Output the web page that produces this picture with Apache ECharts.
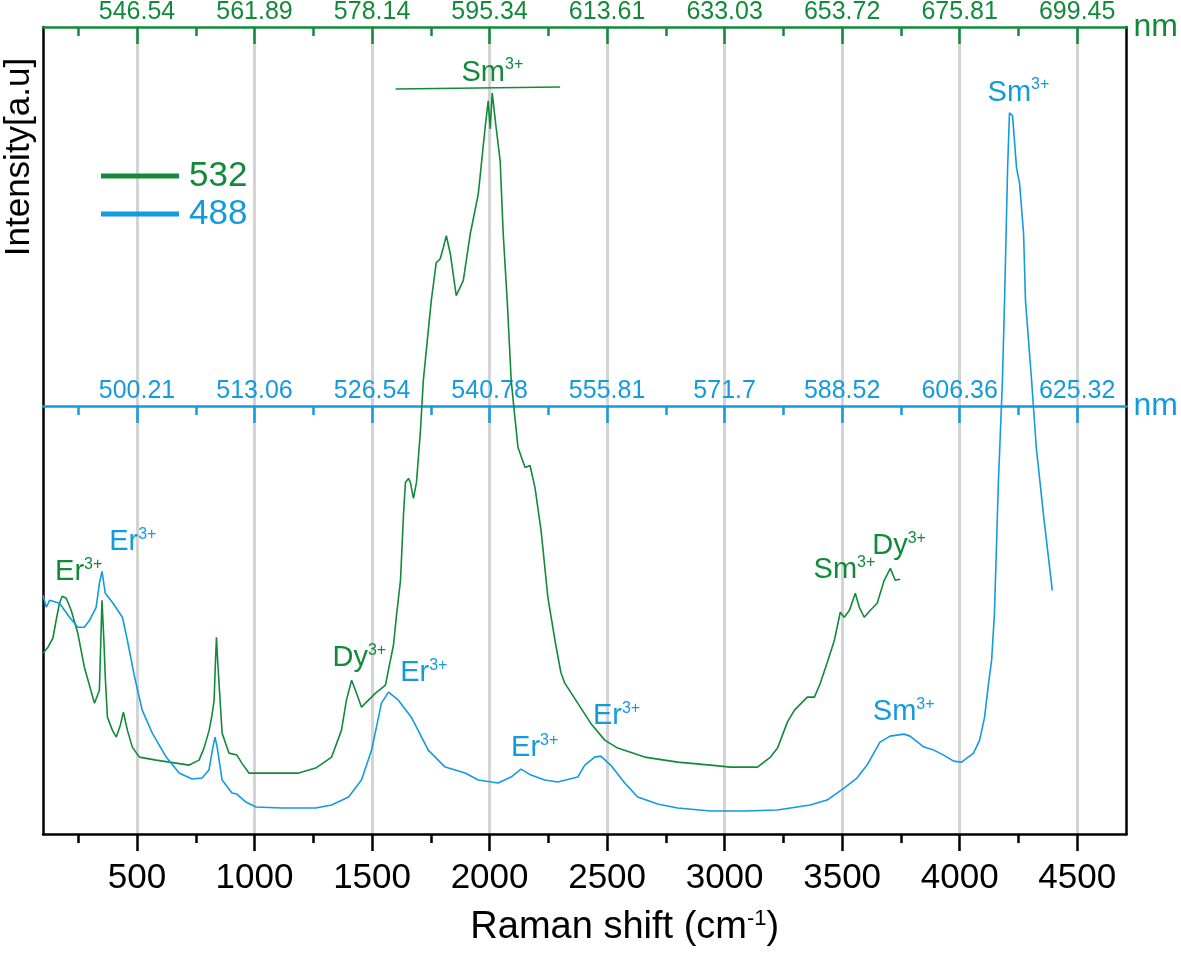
<!DOCTYPE html>
<html>
<head>
<meta charset="utf-8">
<script src="https://cdn.jsdelivr.net/npm/echarts@6/dist/echarts.min.js"></script>
<style>html,body{margin:0;padding:0;background:#fff}#c{width:1181px;height:955px}</style>
</head>
<body>
<div id="c"></div>
<script>
// ---- data (Raman shift in cm-1, intensity in arbitrary units) ----
const ramanShift532 = [100,121,142,156,170,182,199,220,248,276,319,340,346,351,359,365,374,395,412,429,442,459,480,510,581,666,722,764,785,807,819,828,834,838,843,849,862,891,925,946,976,1048,1188,1260,1328,1370,1391,1413,1434,1455,1472,1515,1557,1578,1591,1604,1621,1634,1642,1655,1663,1676,1689,1706,1718,1752,1773,1790,1803,1816,1833,1858,1888,1918,1952,1981,1994,2003,2011,2028,2045,2058,2075,2092,2109,2121,2151,2172,2193,2219,2248,2278,2303,2320,2375,2430,2490,2545,2660,2800,2940,3025,3140,3195,3225,3267,3297,3352,3382,3407,3437,3467,3492,3509,3531,3556,3573,3594,3620,3649,3679,3705,3726,3747];
const intensity532 = [181,187,196,214,231,238,236,224,201,167,131,144,194,234,194,157,117,104,97,109,122,104,87,77,74,71,69,74,86,104,119,134,174,197,174,151,101,81,79,71,61,61,61,66,77,104,134,154,141,127,131,141,149,174,189,219,254,321,352,356,352,336,352,404,454,534,572,576,587,599,581,539,554,601,641,707,734,706,742,707,674,601,534,454,414,387,367,369,347,304,237,194,162,151,131,111,94,86,77,72,69,67,67,77,86,112,124,137,137,151,172,194,222,217,224,241,227,217,224,231,254,266,254,255];

const ramanShift488 = [100,114,128,170,213,248,276,298,326,340,351,365,395,438,459,488,522,565,624,679,734,777,806,823,832,841,862,904,925,963,1006,1116,1260,1328,1400,1455,1498,1540,1570,1612,1667,1739,1811,1896,1952,2036,2091,2134,2176,2235,2290,2375,2405,2447,2473,2515,2575,2630,2715,2800,2940,3084,3224,3364,3436,3508,3563,3606,3661,3704,3763,3789,3848,3890,3932,3974,4008,4059,4085,4106,4123,4136,4148,4165,4182,4191,4204,4212,4225,4242,4255,4272,4280,4306,4326,4356,4394];
const intensity488 = [239,227,234,231,217,207,207,214,227,251,263,241,232,217,194,159,124,101,77,61,55,56,64,87,97,87,54,41,40,32,27,26,26,29,37,54,84,131,142,134,117,84,67,61,54,51,57,65,59,54,52,57,69,77,78,69,51,37,30,26,23,23,24,29,34,46,56,69,92,98,100,98,87,84,79,73,72,81,94,117,151,174,221,354,454,534,667,722,719,667,651,601,534,454,387,321,244];

const tickValues = [500,1000,1500,2000,2500,3000,3500,4000,4500];
const minorTickValues = [250,750,1250,1750,2250,2750,3250,3750,4250];
const nmLabels532 = ['546.54','561.89','578.14','595.34','613.61','633.03','653.72','675.81','699.45'];
const nmLabels488 = ['500.21','513.06','526.54','540.78','555.81','571.7','588.52','606.36','625.32'];

// annotations: [Raman shift, intensity, ion]
const annot532X = [252, 1446, 3510, 3742, 2012];
const annot532Y = [262, 176, 264, 288, 762];
const annot532Ion = ['Er','Dy','Sm','Dy','Sm'];
const annot488X = [482, 1720, 2192, 2540, 3762, 4250];
const annot488Y = [292, 161, 86, 118, 122, 742];
const annot488Ion = ['Er','Er','Er','Er','Sm','Sm'];
const smBracket532 = [[1600,746],[2300,748]];

const GREEN = '#128a3a';
const BLUE = '#139bde';
const GRAY = '#d4d4d4';
const FONT = 'Liberation Sans, Arial, sans-serif';
const X_MIN = 100, X_MAX = 4710, Y_MAX = 808;

function pairs(xs, ys){ return xs.map((x,i)=>[x, ys[i]]); }
function annData(xs, ys, ions){ return xs.map((x,i)=>({value:[x, ys[i]], ion: ions[i]})); }

function annSeries(name, data, color){
  return {
    name: name, type:'scatter', xAxisIndex:1, yAxisIndex:0, symbolSize:0, silent:true,
    data: data, z:5, itemStyle:{color:color, opacity:1},
    label:{
      show:true, position:'inside', color:color, opacity:1, textBorderWidth:0, textBorderColor:'transparent',
      formatter: p => '{b|' + p.data.ion + '}{s|3+}',
      rich:{
        b:{fontSize:29, lineHeight:32, color:color, fontFamily:FONT, textBorderWidth:0},
        s:{fontSize:16, lineHeight:18, verticalAlign:'top', color:color, fontFamily:FONT, textBorderWidth:0}
      }
    },
    emphasis:{disabled:true}
  };
}

function nmAxis(opts){
  return Object.assign({
    type:'value', min:X_MIN, max:X_MAX, position:'top', gridIndex:0, z:3,
    axisLine:{show:true, onZero:false, lineStyle:{color:opts.color, width:2.5}},
    axisTick:{show:true, inside:true, length:17, customValues:tickValues, lineStyle:{color:opts.color, width:2.5}},
    axisLabel:{show:true, customValues:tickValues, margin:2, fontSize:25, color:opts.color, fontFamily:FONT,
      formatter: v => opts.labels[tickValues.indexOf(v)]},
    splitLine:{show:false},
    name:'nm', nameLocation:'end', nameGap:7,
    nameTextStyle:{fontSize:32, color:opts.color, fontFamily:FONT, verticalAlign:'middle'}
  }, opts.extra || {});
}
function minorAxis(position, color, inside, offset){
  return {
    type:'value', min:X_MIN, max:X_MAX, position:position, offset:offset||0, gridIndex:0, z:3,
    axisLine:{show:false},
    axisTick:{show:true, inside:inside, length:9, customValues:minorTickValues, lineStyle:{color:color, width:2.5}},
    axisLabel:{show:false}, splitLine:{show:false}
  };
}

const chart = echarts.init(document.getElementById('c'), null, {renderer:'canvas'});
chart.setOption({
  backgroundColor:'#fff',
  animation:false,
  textStyle:{fontFamily:FONT},
  grid:{left:43, right:51, top:26, bottom:121, containLabel:false},
  legend:{
    left:101, top:157, orient:'vertical', itemWidth:78, itemHeight:5, itemGap:0, padding:0,
    icon:'rect',
    data:[
      {name:'532', textStyle:{color:GREEN}},
      {name:'488', textStyle:{color:BLUE}}
    ],
    textStyle:{fontSize:35, lineHeight:38, fontFamily:FONT, padding:[0,0,0,5]},
    selectedMode:false
  },
  xAxis:[
    // 0: vertical grid lines (long inside ticks)
    {type:'value', min:X_MIN, max:X_MAX, position:'bottom', gridIndex:0, z:0,
      axisLine:{show:false},
      axisTick:{show:true, inside:true, length:Y_MAX, customValues:tickValues, lineStyle:{color:GRAY, width:3}},
      axisLabel:{show:false}, splitLine:{show:false}},
    // 1: main bottom axis
    {type:'value', min:X_MIN, max:X_MAX, position:'bottom', gridIndex:0, z:3,
      axisLine:{show:true, onZero:false, lineStyle:{color:'#000', width:2.5}},
      axisTick:{show:true, inside:false, length:17, customValues:tickValues, lineStyle:{color:'#000', width:2.5}},
      axisLabel:{show:true, customValues:tickValues, margin:27, fontSize:35, color:'#000', fontFamily:FONT,
        formatter: v => String(v)},
      splitLine:{show:false},
      name:'{a|Raman shift (cm}{s|-1}{a|)}', nameLocation:'middle', nameGap:74,
      nameTextStyle:{padding:[0,0,0,80], rich:{
        a:{fontSize:38, lineHeight:40, color:'#000', fontFamily:FONT},
        s:{fontSize:22, lineHeight:24, verticalAlign:'top', color:'#000', fontFamily:FONT}
      }}},
    // 2: bottom minor ticks
    minorAxis('bottom', '#000', false, 0),
    // 3: top (532 nm excitation) wavelength axis
    nmAxis({color:GREEN, labels:nmLabels532}),
    // 4: top minor ticks
    minorAxis('top', GREEN, true, 0),
    // 5: middle (488 nm excitation) wavelength axis
    nmAxis({color:BLUE, labels:nmLabels488, extra:{offset:-379}}),
    // 6: middle minor ticks
    minorAxis('top', BLUE, true, -379)
  ],
  yAxis:[
    {type:'value', min:0, max:Y_MAX, position:'left', z:3,
      axisLine:{show:true, onZero:false, lineStyle:{color:'#000', width:2.5}},
      axisTick:{show:false}, axisLabel:{show:false}, splitLine:{show:false}},
    {type:'value', min:0, max:Y_MAX, position:'right', z:3,
      axisLine:{show:true, onZero:false, lineStyle:{color:'#000', width:2.5}},
      axisTick:{show:false}, axisLabel:{show:false}, splitLine:{show:false}}
  ],
  graphic:[
    {type:'text', z:10, x:19, y:157,
      rotation:Math.PI/2,
      style:{text:'Intensity[a.u]', fontSize:35, fontFamily:FONT, fill:'#000', textAlign:'center', textVerticalAlign:'middle'}}
  ],
  series:[
    {name:'532', type:'line', xAxisIndex:1, yAxisIndex:0, data:pairs(ramanShift532, intensity532),
      showSymbol:false, symbol:'none', color:GREEN, lineStyle:{color:GREEN, width:1.6}, z:4,
      markLine:{silent:true, symbol:['none','none'], label:{show:false},
        lineStyle:{color:GREEN, width:1.5, type:'solid'},
        data:[[{coord:smBracket532[0]},{coord:smBracket532[1]}]]}},
    {name:'488', type:'line', xAxisIndex:1, yAxisIndex:0, data:pairs(ramanShift488, intensity488),
      showSymbol:false, symbol:'none', color:BLUE, lineStyle:{color:BLUE, width:1.6}, z:4},
    annSeries('ann532', annData(annot532X, annot532Y, annot532Ion), GREEN),
    annSeries('ann488', annData(annot488X, annot488Y, annot488Ion), BLUE)
  ]
});
</script>
</body>
</html>
